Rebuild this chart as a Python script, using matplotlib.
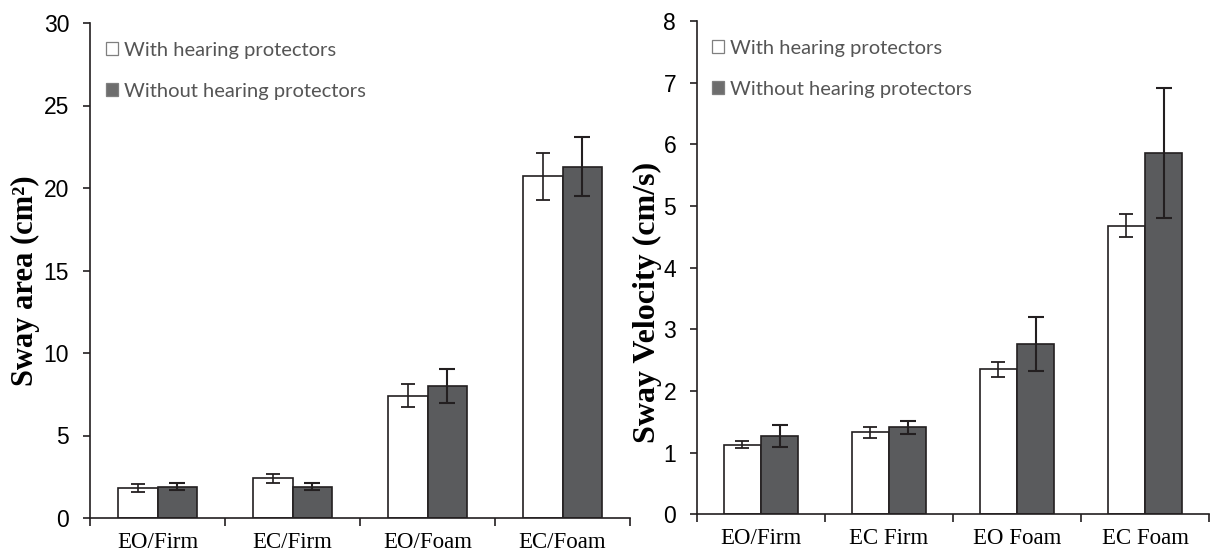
import matplotlib.pyplot as plt
from matplotlib.patches import Patch
import numpy as np

# Data
cats_area = ['EO/Firm', 'EC/Firm', 'EO/Foam', 'EC/Foam']
area_with = [1.8, 2.4, 7.4, 20.7]
area_with_err = [0.25, 0.28, 0.7, 1.4]
area_without = [1.9, 1.9, 8.0, 21.3]
area_without_err = [0.22, 0.22, 1.05, 1.8]

cats_vel = ['EO/Firm', 'EC Firm', 'EO Foam', 'EC Foam']
vel_with = [1.13, 1.33, 2.35, 4.68]
vel_with_err = [0.06, 0.09, 0.12, 0.19]
vel_without = [1.27, 1.41, 2.76, 5.86]
vel_without_err = [0.18, 0.11, 0.44, 1.05]

legend_labels = ['With hearing protectors', 'Without hearing protectors']

ink = '#231f20'
dark = '#5a5b5d'
W = 0.29

fig = plt.figure(figsize=(12.13, 5.58), dpi=100)
ax1 = fig.add_axes([90/1213, 1-518/558, 540/1213, 495/558])
ax2 = fig.add_axes([697/1213, 1-514.3/558, 512/1213, 493.3/558])


def draw(ax, cats, v1, e1, v2, e2, ymax, ylabel, yticks, lsize, lpos):
    x = np.arange(len(cats))
    ax.bar(x - W/2, v1, W, color='white', edgecolor=ink, linewidth=1.2, zorder=2)
    ax.bar(x + W/2, v2, W, color=dark, edgecolor=ink, linewidth=1.2, zorder=2)
    ax.errorbar(x - W/2, v1, yerr=e1, fmt='none', ecolor=ink, elinewidth=1.2,
                capsize=5, capthick=1.3, zorder=3)
    ax.errorbar(x + W/2, v2, yerr=e2, fmt='none', ecolor=ink, elinewidth=1.5,
                capsize=5.5, capthick=1.5, zorder=3)
    ax.set_xlim(-0.5, len(cats) - 0.5)
    ax.set_ylim(0, ymax)
    ax.set_yticks(yticks)
    ax.set_xticks(x)
    ax.set_xticklabels(cats, family='Liberation Serif', fontsize=16.5)
    ax.set_xticks(np.arange(len(cats) + 1) - 0.5, minor=True)
    ax.tick_params(axis='x', which='major', length=0, pad=10)
    ax.tick_params(axis='x', which='minor', length=6, width=1.2, color=ink, direction='out')
    ax.tick_params(axis='y', length=5, width=1.2, color=ink, direction='out', pad=10)
    for lab in ax.get_yticklabels():
        lab.set_family('Liberation Sans')
        lab.set_fontsize(16.5)
    for s in ['top', 'right']:
        ax.spines[s].set_visible(False)
    for s in ['left', 'bottom']:
        ax.spines[s].set_color(ink)
        ax.spines[s].set_linewidth(1.2)
    ax.set_ylabel(ylabel, family='Liberation Serif', fontweight='bold', fontsize=lsize)
    ax.yaxis.set_label_coords(*lpos)
    handles = [Patch(facecolor='white', edgecolor='#7f7f7f', linewidth=0.9),
               Patch(facecolor='#6d6d6d', edgecolor='#7f7f7f', linewidth=0.9)]
    ax.legend(handles, legend_labels, loc='upper left', bbox_to_anchor=(0.03, 0.962),
              frameon=False, prop={'family': 'Lato', 'size': 14.5},
              labelcolor='#555555', handlelength=0.6, handleheight=0.6,
              handletextpad=0.3, labelspacing=1.18, borderaxespad=0, borderpad=0)


draw(ax1, cats_area, area_with, area_with_err, area_without, area_without_err,
     30, 'Sway area (cm²)', [0, 5, 10, 15, 20, 25, 30], 22, (-0.092, 0.48))
draw(ax2, cats_vel, vel_with, vel_with_err, vel_without, vel_without_err,
     8, 'Sway Velocity (cm/s)', range(0, 9), 23, (-0.068, 0.43))

fig.savefig('out.png', dpi=100)
